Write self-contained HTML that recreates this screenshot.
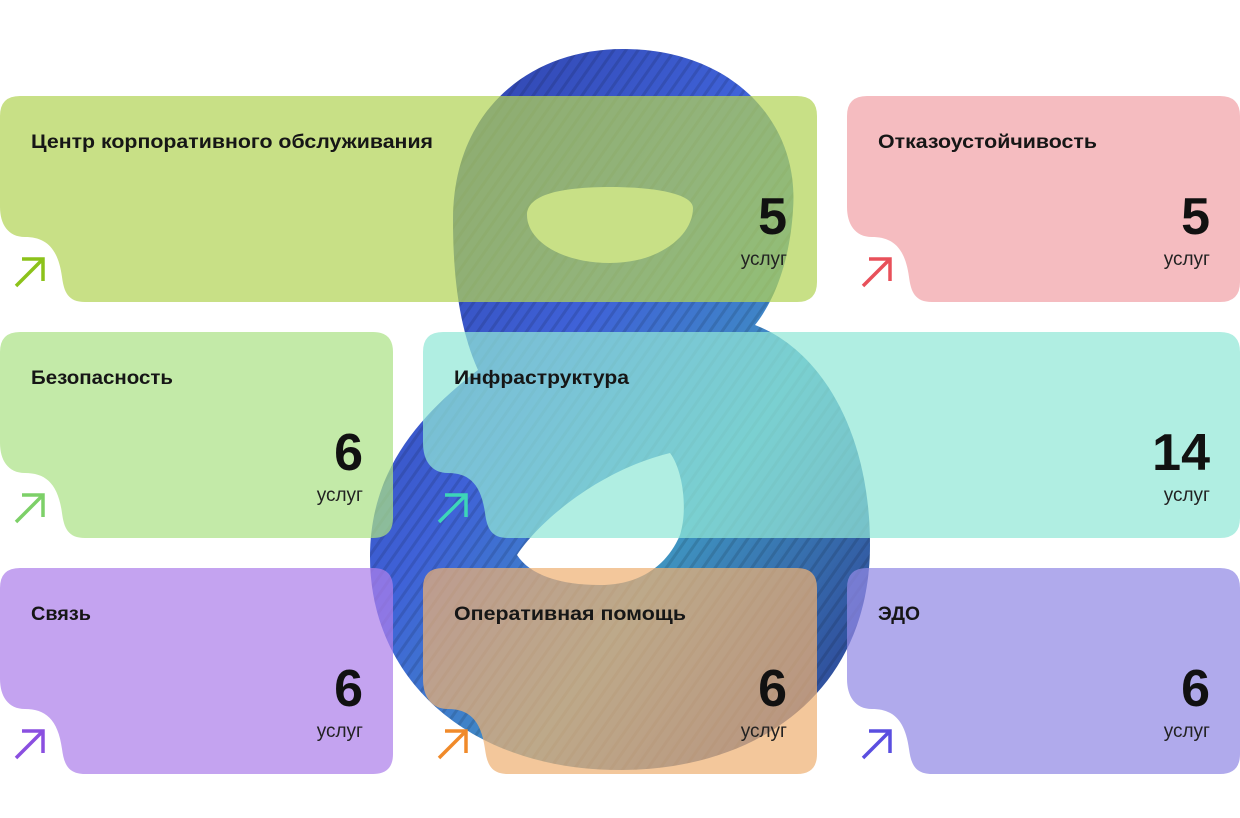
<!DOCTYPE html>
<html><head><meta charset="utf-8"><style>
html,body{margin:0;padding:0;background:#fff;}
svg{display:block;}
.t{font-family:"Liberation Sans","DejaVu Sans",sans-serif;font-weight:bold;font-size:19px;fill:#161616;}
.n{font-family:"Liberation Sans","DejaVu Sans",sans-serif;font-weight:bold;font-size:52px;fill:#111;text-anchor:end;}
.u{font-family:"Liberation Sans","DejaVu Sans",sans-serif;font-size:19px;fill:#222;text-anchor:end;}
</style></head><body>
<svg width="1240" height="818" viewBox="0 0 1240 818" xmlns="http://www.w3.org/2000/svg">
<defs>
<linearGradient id="g8" x1="0" y1="0" x2="1" y2="1">
<stop offset="0" stop-color="#2b3aa0"/>
<stop offset="0.4" stop-color="#3f62d8"/>
<stop offset="0.65" stop-color="#3f93c0"/>
<stop offset="1" stop-color="#2a3590"/>
</linearGradient>
<pattern id="st" width="10" height="10" patternUnits="userSpaceOnUse" patternTransform="rotate(35)">
<rect width="3" height="10" fill="#000" fill-opacity="0.12"/>
</pattern>
</defs>
<g>
<path fill="url(#g8)" fill-rule="evenodd" d="
M623,49 C730,49 800,120 793,210 C790,260 775,300 755,325 C820,350 870,430 870,545 C870,690 760,770 620,770 C470,770 370,680 370,557 C370,470 420,415 478,370 C460,330 453,280 453,220 C453,110 530,49 623,49 Z
M527,215 C527,195 560,187 610,187 C660,187 693,195 693,208 C693,235 660,263 610,263 C560,263 527,240 527,215 Z
M517,555 C540,520 600,470 670,453 C683,470 688,510 680,535 C665,570 635,585 600,585 C560,585 530,575 517,555 Z"/>
<path fill="url(#st)" fill-rule="evenodd" d="
M623,49 C730,49 800,120 793,210 C790,260 775,300 755,325 C820,350 870,430 870,545 C870,690 760,770 620,770 C470,770 370,680 370,557 C370,470 420,415 478,370 C460,330 453,280 453,220 C453,110 530,49 623,49 Z
M527,215 C527,195 560,187 610,187 C660,187 693,195 693,208 C693,235 660,263 610,263 C560,263 527,240 527,215 Z
M517,555 C540,520 600,470 670,453 C683,470 688,510 680,535 C665,570 635,585 600,585 C560,585 530,575 517,555 Z"/>
</g>
<g fill-opacity="0.72">
<path fill="#b3d457" d="M20,96 H797 Q817,96 817,116 V282 Q817,302 797,302 H85 C68,302 64,292 62,277 C58,247 45,237 25,237 C8,237 0,224 0,207 V116 Q0,96 20,96 Z"/>
<path fill="#f1a2a8" d="M867,96 H1220 Q1240,96 1240,116 V282 Q1240,302 1220,302 H932 C915,302 911,292 909,277 C905,247 892,237 872,237 C855,237 847,224 847,207 V116 Q847,96 867,96 Z"/>
<path fill="#ace286" d="M20,332 H373 Q393,332 393,352 V518 Q393,538 373,538 H85 C68,538 64,528 62,513 C58,483 45,473 25,473 C8,473 0,460 0,443 V352 Q0,332 20,332 Z"/>
<path fill="#91e7d7" d="M443,332 H1220 Q1240,332 1240,352 V518 Q1240,538 1220,538 H508 C491,538 487,528 485,513 C481,483 468,473 448,473 C431,473 423,460 423,443 V352 Q423,332 443,332 Z"/>
<path fill="#ad7fea" d="M20,568 H373 Q393,568 393,588 V754 Q393,774 373,774 H85 C68,774 64,764 62,749 C58,719 45,709 25,709 C8,709 0,696 0,679 V588 Q0,568 20,568 Z"/>
<path fill="#eeb174" d="M443,568 H797 Q817,568 817,588 V754 Q817,774 797,774 H508 C491,774 487,764 485,749 C481,719 468,709 448,709 C431,709 423,696 423,679 V588 Q423,568 443,568 Z"/>
<path fill="#9189e5" d="M867,568 H1220 Q1240,568 1240,588 V754 Q1240,774 1220,774 H932 C915,774 911,764 909,749 C905,719 892,709 872,709 C855,709 847,696 847,679 V588 Q847,568 867,568 Z"/>
</g>
<g fill="none" stroke-width="3.5">
<path stroke="#8cc21a" d="M16,286 L43,259 M22,259 H43 V281"/>
<path stroke="#e8505a" d="M863,286 L890,259 M869,259 H890 V281"/>
<path stroke="#7dd068" d="M16,522 L43,495 M22,495 H43 V517"/>
<path stroke="#3dd6b8" d="M439,522 L466,495 M445,495 H466 V517"/>
<path stroke="#8a4fe0" d="M16,758 L43,731 M22,731 H43 V753"/>
<path stroke="#f08a2a" d="M439,758 L466,731 M445,731 H466 V753"/>
<path stroke="#5a4ee0" d="M863,758 L890,731 M869,731 H890 V753"/>
</g>
<text class="t" x="31" y="148" textLength="402" lengthAdjust="spacingAndGlyphs">Центр корпоративного обслуживания</text>
<text class="n" x="787" y="234">5</text><text class="u" x="787" y="265">услуг</text>
<text class="t" x="878" y="148" textLength="219" lengthAdjust="spacingAndGlyphs">Отказоустойчивость</text>
<text class="n" x="1210" y="234">5</text><text class="u" x="1210" y="265">услуг</text>
<text class="t" x="31" y="384" textLength="142" lengthAdjust="spacingAndGlyphs">Безопасность</text>
<text class="n" x="363" y="470">6</text><text class="u" x="363" y="501">услуг</text>
<text class="t" x="454" y="384" textLength="175" lengthAdjust="spacingAndGlyphs">Инфраструктура</text>
<text class="n" x="1210" y="470">14</text><text class="u" x="1210" y="501">услуг</text>
<text class="t" x="31" y="620" textLength="60" lengthAdjust="spacingAndGlyphs">Связь</text>
<text class="n" x="363" y="706">6</text><text class="u" x="363" y="737">услуг</text>
<text class="t" x="454" y="620" textLength="232" lengthAdjust="spacingAndGlyphs">Оперативная помощь</text>
<text class="n" x="787" y="706">6</text><text class="u" x="787" y="737">услуг</text>
<text class="t" x="878" y="620" textLength="42" lengthAdjust="spacingAndGlyphs">ЭДО</text>
<text class="n" x="1210" y="706">6</text><text class="u" x="1210" y="737">услуг</text>
</svg>
</body></html>
